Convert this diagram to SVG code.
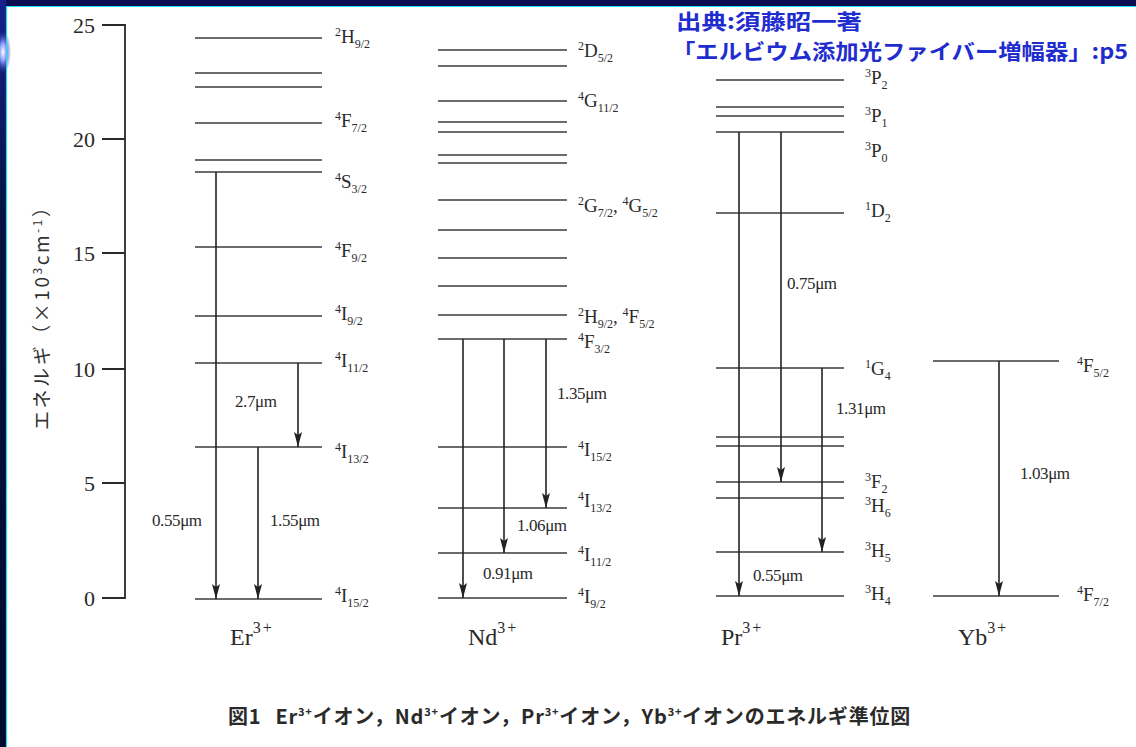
<svg xmlns="http://www.w3.org/2000/svg" width="1136" height="747" viewBox="0 0 1136 747">
<style>
.lv{stroke:#3c3c3c;stroke-width:1.6;fill:none}
.ar{stroke:#222;stroke-width:1.6;fill:none;marker-end:url(#ah)}
.ax{stroke:#2a2a2a;stroke-width:1.8;fill:none}
.t{font-family:"Liberation Serif","Times New Roman",serif;fill:#2a2a2a}
.lb{font-size:19px}
.s{font-size:12px}
.wl{font-size:17px;letter-spacing:-0.4px}
.tk{font-size:22px;text-anchor:end}
.ion{font-size:24px}
.ionS{font-size:16px;letter-spacing:2px}
.cite{font-family:"Noto Sans CJK JP","Noto Sans",sans-serif;font-weight:bold;font-size:21px;fill:#1f2dcf}
.cap{font-family:"Noto Sans CJK JP","Noto Sans",sans-serif;font-weight:bold;font-size:20px;fill:#2a2a2a;letter-spacing:0.8px}
</style>
<defs>
<marker id="ah" viewBox="0 0 15 8" refX="15" refY="4" markerWidth="15" markerHeight="8" markerUnits="userSpaceOnUse" orient="auto">
<path d="M0,0 L15,4 L0,8 L3,4 z" fill="#222"/>
</marker>
<linearGradient id="lg" x1="0" y1="0" x2="0" y2="1">
<stop offset="0" stop-color="#15218a"/>
<stop offset="0.3" stop-color="#06113f"/>
<stop offset="1" stop-color="#000a2c"/>
</linearGradient>
<radialGradient id="glow" cx="0.5" cy="0.5" r="0.5">
<stop offset="0" stop-color="#ffffff"/>
<stop offset="0.4" stop-color="#8fa0ff"/>
<stop offset="1" stop-color="#2030a0" stop-opacity="0"/>
</radialGradient>
</defs>

<g id="frame">
<rect width="1136" height="747" fill="#ffffff"/>
<rect x="0" y="0" width="1136" height="6" fill="#0b0f52"/>
<rect x="0" y="0" width="6" height="747" fill="url(#lg)"/>
<ellipse cx="3" cy="52" rx="8" ry="22" fill="url(#glow)"/>
<line x1="6.5" y1="6.5" x2="6.5" y2="747" stroke="#22d8f2" stroke-width="1.2"/>
<line x1="6" y1="6.5" x2="1136" y2="6.5" stroke="#22d8f2" stroke-width="1.2"/>
</g>

<g id="citation">
<text class="cite" x="676" y="29" textLength="186" lengthAdjust="spacingAndGlyphs">出典:須藤昭一著</text>
<text class="cite" x="672" y="59" textLength="456" lengthAdjust="spacingAndGlyphs">「エルビウム添加光ファイバー増幅器」:p5</text>
</g>

<g id="axis">
<path class="ax" d="M102,25 H125 V598 H102 M102,139 H125 M102,253 H125 M102,369 H125 M102,483 H125"/>
<text class="t tk" x="95" y="33">25</text>
<text class="t tk" x="95" y="147">20</text>
<text class="t tk" x="95" y="261">15</text>
<text class="t tk" x="95" y="377">10</text>
<text class="t tk" x="95" y="491">5</text>
<text class="t tk" x="95" y="606">0</text>
<text transform="translate(49,314) rotate(-90)" text-anchor="middle" style="font-family:'Noto Sans CJK JP','Liberation Serif',sans-serif;font-size:19px;fill:#333" textLength="232" lengthAdjust="spacing">エネルギ（×10<tspan dy="-7" font-size="12">3</tspan><tspan dy="7">cm</tspan><tspan dy="-7" font-size="12">-1</tspan><tspan dy="7">）</tspan></text>
</g>

<g id="er">
<path class="lv" d="M195,38H322 M195,73H322 M195,87H322 M195,123H322 M195,160H322 M195,172H322 M195,247H322 M195,316H322 M195,363H322 M195,447H322 M195,599H322"/>
<text class="t lb" x="335"><tspan class="s" y="36">2</tspan><tspan y="43">H</tspan><tspan class="s" y="48">9/2</tspan></text>
<text class="t lb" x="335"><tspan class="s" y="120">4</tspan><tspan y="127">F</tspan><tspan class="s" y="132">7/2</tspan></text>
<text class="t lb" x="335"><tspan class="s" y="181">4</tspan><tspan y="188">S</tspan><tspan class="s" y="193">3/2</tspan></text>
<text class="t lb" x="335"><tspan class="s" y="250">4</tspan><tspan y="257">F</tspan><tspan class="s" y="262">9/2</tspan></text>
<text class="t lb" x="335"><tspan class="s" y="313">4</tspan><tspan y="320">I</tspan><tspan class="s" y="325">9/2</tspan></text>
<text class="t lb" x="335"><tspan class="s" y="360">4</tspan><tspan y="367">I</tspan><tspan class="s" y="372">11/2</tspan></text>
<text class="t lb" x="335"><tspan class="s" y="451">4</tspan><tspan y="458">I</tspan><tspan class="s" y="463">13/2</tspan></text>
<text class="t lb" x="335"><tspan class="s" y="595">4</tspan><tspan y="602">I</tspan><tspan class="s" y="607">15/2</tspan></text>
<text class="t ion" x="230" y="645">Er<tspan class="ionS" y="633">3+</tspan></text>
</g>

<g id="nd">
<path class="lv" d="M438,50H567 M438,66H567 M438,101H567 M438,122H567 M438,132H567 M438,155H567 M438,163H567 M438,200H567 M438,230H567 M438,258H567 M438,286H567 M438,315H567 M438,339H567 M438,447H567 M438,508H567 M438,553H567 M438,598H567"/>
<text class="t lb" x="578"><tspan class="s" y="50">2</tspan><tspan y="57">D</tspan><tspan class="s" y="62">5/2</tspan></text>
<text class="t lb" x="578"><tspan class="s" y="100">4</tspan><tspan y="107">G</tspan><tspan class="s" y="112">11/2</tspan></text>
<text class="t lb" x="578"><tspan class="s" y="205">2</tspan><tspan y="212">G</tspan><tspan class="s" y="217">7/2</tspan><tspan y="212">, </tspan><tspan class="s" y="205">4</tspan><tspan y="212">G</tspan><tspan class="s" y="217">5/2</tspan></text>
<text class="t lb" x="578"><tspan class="s" y="316">2</tspan><tspan y="323">H</tspan><tspan class="s" y="328">9/2</tspan><tspan y="323">, </tspan><tspan class="s" y="316">4</tspan><tspan y="323">F</tspan><tspan class="s" y="328">5/2</tspan></text>
<text class="t lb" x="578"><tspan class="s" y="341">4</tspan><tspan y="348">F</tspan><tspan class="s" y="353">3/2</tspan></text>
<text class="t lb" x="578"><tspan class="s" y="449">4</tspan><tspan y="456">I</tspan><tspan class="s" y="461">15/2</tspan></text>
<text class="t lb" x="578"><tspan class="s" y="500">4</tspan><tspan y="507">I</tspan><tspan class="s" y="512">13/2</tspan></text>
<text class="t lb" x="578"><tspan class="s" y="554">4</tspan><tspan y="561">I</tspan><tspan class="s" y="566">11/2</tspan></text>
<text class="t lb" x="578"><tspan class="s" y="596">4</tspan><tspan y="603">I</tspan><tspan class="s" y="608">9/2</tspan></text>
<text class="t ion" x="468" y="645">Nd<tspan class="ionS" y="633">3+</tspan></text>
</g>

<g id="pr">
<path class="lv" d="M716,80H844 M716,107H844 M716,116H844 M716,132H844 M716,213H844 M716,368H844 M716,437H844 M716,446H844 M716,482H844 M716,498H844 M716,552H844 M716,596H844"/>
<text class="t lb" x="865"><tspan class="s" y="77">3</tspan><tspan y="84">P</tspan><tspan class="s" y="89">2</tspan></text>
<text class="t lb" x="865"><tspan class="s" y="115">3</tspan><tspan y="122">P</tspan><tspan class="s" y="127">1</tspan></text>
<text class="t lb" x="865"><tspan class="s" y="150">3</tspan><tspan y="157">P</tspan><tspan class="s" y="162">0</tspan></text>
<text class="t lb" x="865"><tspan class="s" y="210">1</tspan><tspan y="217">D</tspan><tspan class="s" y="222">2</tspan></text>
<text class="t lb" x="865"><tspan class="s" y="368">1</tspan><tspan y="375">G</tspan><tspan class="s" y="380">4</tspan></text>
<text class="t lb" x="865"><tspan class="s" y="481">3</tspan><tspan y="488">F</tspan><tspan class="s" y="493">2</tspan></text>
<text class="t lb" x="865"><tspan class="s" y="505">3</tspan><tspan y="512">H</tspan><tspan class="s" y="517">6</tspan></text>
<text class="t lb" x="865"><tspan class="s" y="550">3</tspan><tspan y="557">H</tspan><tspan class="s" y="562">5</tspan></text>
<text class="t lb" x="865"><tspan class="s" y="593">3</tspan><tspan y="600">H</tspan><tspan class="s" y="605">4</tspan></text>
<text class="t ion" x="721" y="645">Pr<tspan class="ionS" y="633">3+</tspan></text>
</g>

<g id="yb">
<path class="lv" d="M933,361H1059 M933,596H1059"/>
<text class="t lb" x="1077"><tspan class="s" y="365">4</tspan><tspan y="372">F</tspan><tspan class="s" y="377">5/2</tspan></text>
<text class="t lb" x="1077"><tspan class="s" y="594">4</tspan><tspan y="601">F</tspan><tspan class="s" y="606">7/2</tspan></text>
<text class="t ion" x="958" y="645">Yb<tspan class="ionS" y="633">3+</tspan></text>
</g>

<g id="connectors">
<line class="ar" x1="216" y1="172" x2="216" y2="599"/>
<line class="ar" x1="258" y1="447" x2="258" y2="599"/>
<line class="ar" x1="298" y1="363" x2="298" y2="447"/>
<line class="ar" x1="463" y1="339" x2="463" y2="598"/>
<line class="ar" x1="504" y1="339" x2="504" y2="553"/>
<line class="ar" x1="546" y1="339" x2="546" y2="508"/>
<line class="ar" x1="739" y1="132" x2="739" y2="596"/>
<line class="ar" x1="781" y1="132" x2="781" y2="482"/>
<line class="ar" x1="822" y1="368" x2="822" y2="552"/>
<line class="ar" x1="999" y1="361" x2="999" y2="596"/>
</g>

<g id="wavelengths">
<text class="t wl" x="152" y="526">0.55μm</text>
<text class="t wl" x="270" y="526">1.55μm</text>
<text class="t wl" x="235" y="407">2.7μm</text>
<text class="t wl" x="557" y="399">1.35μm</text>
<text class="t wl" x="517" y="531">1.06μm</text>
<text class="t wl" x="483" y="579">0.91μm</text>
<text class="t wl" x="787" y="289">0.75μm</text>
<text class="t wl" x="836" y="414">1.31μm</text>
<text class="t wl" x="753" y="581">0.55μm</text>
<text class="t wl" x="1020" y="479">1.03μm</text>
</g>

<g id="caption">
<text class="cap" x="228" y="724">図1<tspan dx="14">Er</tspan><tspan font-size="11" dy="-8">3+</tspan><tspan dy="8">イオン，Nd</tspan><tspan font-size="11" dy="-8">3+</tspan><tspan dy="8">イオン，Pr</tspan><tspan font-size="11" dy="-8">3+</tspan><tspan dy="8">イオン，Yb</tspan><tspan font-size="11" dy="-8">3+</tspan><tspan dy="8">イオンのエネルギ準位図</tspan></text>
</g>
</svg>
